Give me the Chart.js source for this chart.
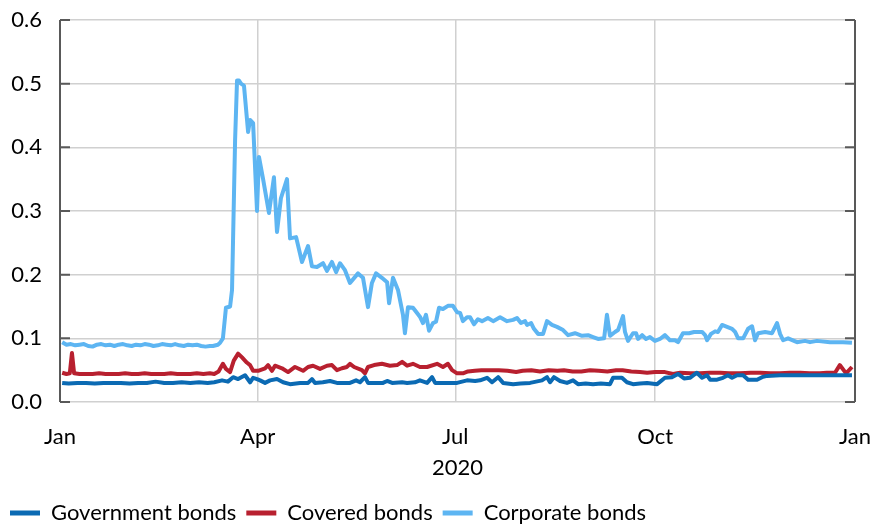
<!DOCTYPE html>
<html>
<head>
<meta charset="utf-8">
<script src="https://cdn.jsdelivr.net/npm/chart.js@4.4.1/dist/chart.umd.min.js"></script>
<style>
  html, body { margin: 0; padding: 0; background: #fff; }
  #wrap { width: 870px; height: 524px; }
</style>
</head>
<body>
<div id="wrap"><canvas id="bondChart"></canvas></div>
<script>
// x values are days since 1 Jan 2020
const tickDays = [0, 91, 182, 274, 366];
const tickLabels = ["Jan", "Apr", "Jul", "Oct", "Jan"];
const yearLabel = "2020";

const govDays = [1, 4, 8, 12, 16, 20, 24, 28, 32, 36, 40, 44, 48, 52, 56, 60, 64, 68, 71, 74.6, 77.3, 79.7, 82, 85.2, 87.5, 88.9, 90.7, 92.1, 94.4, 96.7, 99.9, 102.7, 105.9, 110.5, 114.2, 116, 117.4, 121, 124.3, 127.5, 133.5, 136.3, 138.1, 140.4, 141.8, 145, 148.7, 150.6, 152.9, 157.5, 159.8, 163.4, 165.7, 169, 171.3, 172.7, 176, 179.6, 182.8, 187.4, 191.1, 193.4, 196.6, 198.9, 201.7, 204, 208.6, 212, 216.4, 221.9, 224.2, 225.6, 227.4, 230.2, 233.4, 236.2, 238.5, 242, 245.4, 249, 253.2, 254.6, 258.7, 261, 263.8, 267, 270.3, 274.9, 278.5, 281.7, 284.5, 287.3, 290, 293.2, 295.6, 297.9, 299.3, 302.5, 305.2, 307.5, 309.4, 311.7, 314.5, 316.8, 320.9, 323.2, 325.5, 331.5, 364.6];
const govValues = [0.030, 0.029, 0.030, 0.030, 0.029, 0.030, 0.030, 0.030, 0.029, 0.030, 0.030, 0.032, 0.030, 0.030, 0.031, 0.030, 0.031, 0.030, 0.031, 0.034, 0.032, 0.039, 0.036, 0.042, 0.031, 0.038, 0.036, 0.034, 0.030, 0.034, 0.036, 0.031, 0.028, 0.030, 0.030, 0.036, 0.030, 0.031, 0.033, 0.030, 0.030, 0.034, 0.031, 0.039, 0.030, 0.030, 0.030, 0.033, 0.030, 0.031, 0.030, 0.031, 0.034, 0.030, 0.039, 0.030, 0.030, 0.030, 0.030, 0.034, 0.033, 0.034, 0.038, 0.031, 0.039, 0.030, 0.028, 0.029, 0.030, 0.034, 0.039, 0.031, 0.039, 0.033, 0.030, 0.034, 0.028, 0.029, 0.028, 0.029, 0.028, 0.038, 0.038, 0.031, 0.028, 0.029, 0.030, 0.028, 0.038, 0.039, 0.044, 0.037, 0.038, 0.046, 0.038, 0.042, 0.035, 0.035, 0.038, 0.042, 0.038, 0.042, 0.042, 0.035, 0.035, 0.039, 0.041, 0.042, 0.042];

const covDays = [1, 3, 4.5, 5.5, 6.5, 9, 12, 15, 18, 21, 24, 27, 30, 33, 36, 39, 42, 45, 48, 51, 54, 57, 60, 63, 66, 69, 71, 73, 75, 76.4, 78.3, 80, 82, 83.8, 86, 87.5, 88.9, 91.2, 94.4, 95.8, 97.6, 99, 102.2, 105, 108.2, 111.9, 114.2, 116.5, 119.7, 122.9, 125.2, 127.5, 129.8, 132.1, 133.5, 135.4, 139, 140.4, 141.8, 144.6, 148.2, 151.9, 155.2, 157.5, 159.8, 162.5, 165.7, 169, 173.6, 176.3, 178.6, 180.5, 182.8, 185.5, 187.8, 191, 194, 198, 202, 206, 210, 213, 217, 221, 225, 229, 232, 236, 240, 244, 248, 252, 256, 259, 263, 267, 270.3, 274, 278.5, 282.2, 285.5, 290, 294.7, 299, 303.9, 308, 313, 318, 322.3, 327, 331.5, 336, 340.7, 345, 349.9, 353, 356.8, 359, 361.9, 364.6];
const covValues = [0.046, 0.044, 0.045, 0.077, 0.045, 0.044, 0.044, 0.044, 0.045, 0.044, 0.044, 0.044, 0.045, 0.044, 0.044, 0.045, 0.044, 0.044, 0.044, 0.045, 0.044, 0.044, 0.044, 0.045, 0.044, 0.045, 0.044, 0.048, 0.060, 0.052, 0.047, 0.065, 0.076, 0.070, 0.062, 0.058, 0.049, 0.049, 0.053, 0.058, 0.049, 0.057, 0.053, 0.047, 0.055, 0.049, 0.055, 0.057, 0.052, 0.057, 0.058, 0.050, 0.053, 0.055, 0.060, 0.055, 0.050, 0.045, 0.055, 0.058, 0.060, 0.057, 0.058, 0.063, 0.057, 0.060, 0.055, 0.055, 0.060, 0.055, 0.060, 0.050, 0.045, 0.045, 0.048, 0.049, 0.050, 0.050, 0.050, 0.049, 0.047, 0.049, 0.050, 0.048, 0.050, 0.049, 0.050, 0.048, 0.048, 0.050, 0.049, 0.048, 0.050, 0.050, 0.048, 0.047, 0.046, 0.047, 0.047, 0.044, 0.046, 0.045, 0.045, 0.046, 0.046, 0.045, 0.045, 0.046, 0.046, 0.045, 0.045, 0.046, 0.046, 0.045, 0.045, 0.046, 0.046, 0.058, 0.045, 0.055];

const corpDays = [1, 3, 5, 7, 9, 11, 13, 15, 17, 19, 21, 23, 25, 27, 29, 31, 33, 35, 37, 39, 41, 43, 45, 47, 49, 51, 53, 55, 57, 59, 61, 63, 65, 67, 69, 70.4, 72.7, 73.7, 75, 76.4, 78.3, 79.2, 80.6, 81.5, 82.4, 83.3, 84.7, 86.6, 87.5, 88.9, 90.7, 91.6, 93.5, 96.2, 98.5, 99.9, 101.7, 104.5, 105.9, 108.7, 111.4, 114.2, 116, 118.3, 121.1, 122.9, 125.2, 127.1, 128.9, 131.2, 133.5, 137.2, 139.5, 141.8, 143.6, 145.5, 148.2, 150.6, 151.5, 153.3, 155.6, 157.9, 158.8, 160.2, 162.5, 163.4, 165.7, 167.1, 168.5, 169.9, 171.7, 173.1, 174.5, 176.3, 178.6, 180.9, 182.8, 184.2, 185.5, 187.4, 188.8, 190.6, 192.4, 194.3, 197, 199.4, 202.6, 205.8, 208.6, 210.4, 212.2, 214.1, 215, 216.9, 218.2, 220.1, 222.4, 224.2, 226.5, 228.8, 231.6, 233.9, 237.1, 240.3, 243.1, 245.4, 247.7, 250.5, 251.8, 253.2, 255.5, 256.9, 259.2, 260.1, 261.5, 263.8, 265.2, 266.1, 268, 269.8, 271.6, 273.9, 276.2, 278.5, 280.8, 283.1, 284.5, 286.8, 289.6, 291.9, 295.6, 297, 297.9, 299.7, 301.6, 302.9, 304.8, 307.1, 309.4, 310.8, 312.2, 314.5, 316.8, 318.6, 320, 321.4, 324.6, 327.8, 330.1, 331.5, 332.9, 335.2, 339.3, 343, 345.3, 348.5, 354.5, 360.5, 364.6];
const corpValues = [0.094, 0.090, 0.091, 0.089, 0.090, 0.091, 0.088, 0.087, 0.090, 0.091, 0.089, 0.090, 0.088, 0.090, 0.091, 0.089, 0.088, 0.090, 0.089, 0.091, 0.090, 0.088, 0.089, 0.091, 0.090, 0.089, 0.091, 0.089, 0.088, 0.090, 0.089, 0.090, 0.088, 0.087, 0.088, 0.088, 0.090, 0.093, 0.100, 0.148, 0.150, 0.176, 0.410, 0.505, 0.505, 0.500, 0.497, 0.424, 0.443, 0.438, 0.300, 0.385, 0.350, 0.297, 0.353, 0.267, 0.320, 0.350, 0.257, 0.259, 0.220, 0.245, 0.213, 0.212, 0.218, 0.206, 0.220, 0.204, 0.218, 0.207, 0.187, 0.202, 0.195, 0.149, 0.187, 0.202, 0.195, 0.188, 0.155, 0.195, 0.176, 0.137, 0.108, 0.149, 0.148, 0.144, 0.134, 0.124, 0.137, 0.112, 0.124, 0.126, 0.148, 0.146, 0.151, 0.151, 0.141, 0.140, 0.127, 0.133, 0.133, 0.122, 0.130, 0.127, 0.132, 0.127, 0.133, 0.127, 0.129, 0.132, 0.124, 0.127, 0.121, 0.124, 0.115, 0.107, 0.107, 0.127, 0.121, 0.118, 0.113, 0.105, 0.108, 0.104, 0.105, 0.102, 0.099, 0.100, 0.137, 0.104, 0.110, 0.113, 0.135, 0.110, 0.096, 0.108, 0.108, 0.099, 0.105, 0.099, 0.102, 0.096, 0.099, 0.105, 0.097, 0.097, 0.094, 0.108, 0.108, 0.110, 0.110, 0.105, 0.097, 0.107, 0.111, 0.110, 0.121, 0.118, 0.115, 0.110, 0.100, 0.100, 0.115, 0.119, 0.097, 0.108, 0.110, 0.108, 0.124, 0.107, 0.097, 0.100, 0.094, 0.096, 0.094, 0.096, 0.094, 0.094, 0.093];

const FONT = "Lato, 'Open Sans', sans-serif";

function toPoints(days, vals) {
  return days.map((d, i) => ({ x: d, y: vals[i] }));
}

// axis frame: dark left/right lines with short inward ticks
const framePlugin = {
  id: "frame",
  afterDatasetsDraw(chart) {
    const { ctx, chartArea: a, scales: { y } } = chart;
    ctx.save();
    ctx.strokeStyle = "#595959";
    ctx.lineWidth = 2;
    ctx.beginPath();
    ctx.moveTo(a.left, a.top);
    ctx.lineTo(a.left, a.bottom);
    ctx.moveTo(a.right, a.top);
    ctx.lineTo(a.right, a.bottom);
    y.ticks.forEach((t) => {
      const py = y.getPixelForValue(t.value);
      ctx.moveTo(a.left, py);
      ctx.lineTo(a.left + 10, py);
      ctx.moveTo(a.right - 10, py);
      ctx.lineTo(a.right, py);
    });
    ctx.stroke();
    ctx.restore();
  },
};

const ctx = document.getElementById("bondChart");
new Chart(ctx, {
  type: "line",
  data: {
    datasets: [
      {
        label: "Government bonds",
        data: toPoints(govDays, govValues),
        borderColor: "#0b6ab3",
        backgroundColor: "#0b6ab3",
      },
      {
        label: "Covered bonds",
        data: toPoints(covDays, covValues),
        borderColor: "#b8202f",
        backgroundColor: "#b8202f",
      },
      {
        label: "Corporate bonds",
        data: toPoints(corpDays, corpValues),
        borderColor: "#5db5f2",
        backgroundColor: "#5db5f2",
      },
    ],
  },
  options: {
    responsive: true,
    maintainAspectRatio: false,
    animation: false,
    layout: { padding: { top: 20, right: 15, bottom: -10, left: 0 } },
    elements: {
      point: { radius: 0 },
      line: { borderWidth: 4, tension: 0, borderJoinStyle: "round" },
    },
    plugins: {
      tooltip: { enabled: false },
      legend: {
        position: "bottom",
        align: "start",
        labels: {
          color: "#000",
          font: { family: FONT, size: 22 },
          boxWidth: 30,
          boxHeight: 5,
          padding: 10,
          generateLabels(chart) {
            const items = Chart.defaults.plugins.legend.labels.generateLabels(chart);
            items.forEach((it) => { it.lineWidth = 0; });
            return items;
          },
        },
      },
    },
    scales: {
      x: {
        type: "linear",
        min: 0,
        max: 366,
        afterBuildTicks(scale) {
          scale.ticks = tickDays.map((d) => ({ value: d }));
        },
        afterFit(scale) {
          scale.paddingLeft = 0;
          scale.paddingRight = 0;
          scale.height = 90;
        },
        ticks: {
          color: "#000",
          font: { family: FONT, size: 22 },
          padding: 22,
          maxRotation: 0,
          autoSkip: false,
          callback: (v) => tickLabels[tickDays.indexOf(v)],
        },
        grid: {
          drawTicks: false,
          lineWidth: 1.5,
          color: (c) => (c.tick && (c.tick.value === 0 || c.tick.value === 366) ? "rgba(0,0,0,0)" : "#d0d0d0"),
        },
        border: { display: false },
        title: {
          display: true,
          text: yearLabel,
          color: "#000",
          font: { family: FONT, size: 22 },
          padding: { top: 11, bottom: 11 },
        },
      },
      y: {
        min: 0,
        max: 0.6,
        afterFit(scale) {
          scale.width = 60;
          scale.paddingTop = 0;
          scale.paddingBottom = 0;
        },
        ticks: {
          stepSize: 0.1,
          color: "#000",
          font: { family: FONT, size: 22 },
          padding: 18,
          callback: (v) => v.toFixed(1),
        },
        grid: { drawTicks: false, lineWidth: 1.5, color: "#d0d0d0" },
        border: { display: false },
      },
    },
  },
  plugins: [framePlugin],
});
</script>
</body>
</html>
